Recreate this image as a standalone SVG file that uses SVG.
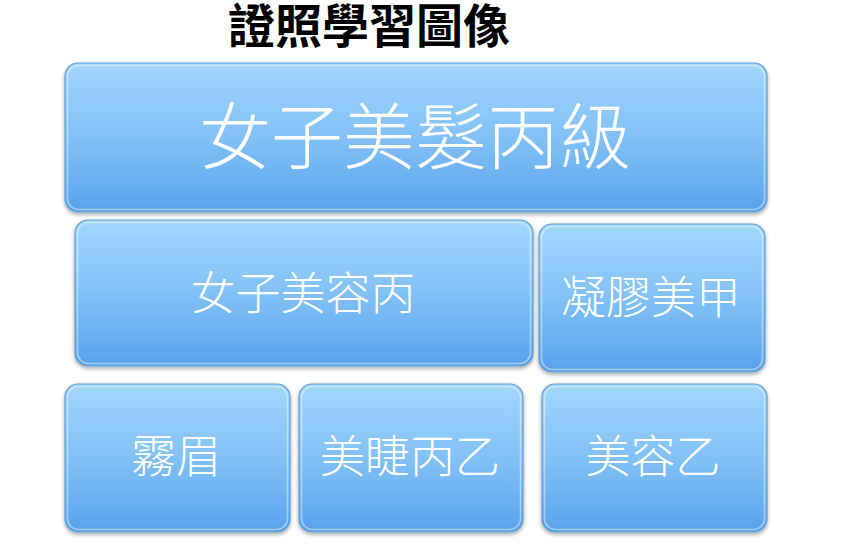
<svg xmlns="http://www.w3.org/2000/svg" width="856" height="549" viewBox="0 0 856 549">
<defs>
<linearGradient id="g" x1="0" y1="0" x2="0" y2="1">
<stop offset="0" stop-color="#a2d6fd"/>
<stop offset="0.5" stop-color="#82c1f7"/>
<stop offset="1" stop-color="#58a2ec"/>
</linearGradient>
<filter id="sh" x="-5%" y="-5%" width="110%" height="115%">
<feGaussianBlur in="SourceAlpha" stdDeviation="2"/>
<feOffset dx="0" dy="2" result="b"/>
<feComponentTransfer><feFuncA type="linear" slope="0.35"/></feComponentTransfer>
<feMerge><feMergeNode/><feMergeNode in="SourceGraphic"/></feMerge>
</filter>
</defs>
<style>
.box{fill:url(#g);stroke:#5e9fd8;stroke-width:1.2;filter:url(#sh)}
.hl{fill:none;stroke:#ffffff;stroke-opacity:0.45;stroke-width:1.5}
.t{fill:#ffffff;font-family:"Noto Sans CJK TC","Noto Sans CJK SC",sans-serif;font-weight:300;text-anchor:middle}
.title{fill:#000000;font-family:"Noto Sans CJK TC","Noto Sans CJK SC",sans-serif;font-weight:700;font-size:47px;text-anchor:middle}
</style>
<rect width="856" height="549" fill="#ffffff"/>
<text class="title" x="369" y="43">證照學習圖像</text>
<g id="connectors"/>
<g id="n1">
<rect class="box" x="65" y="63" width="702" height="149" rx="13"/>
<rect class="hl" x="67.5" y="65.5" width="697" height="144" rx="11"/>
<text class="t" x="415" y="163" font-size="72">女子美髮丙級</text>
</g>
<g id="n2">
<rect class="box" x="75" y="220" width="458" height="146" rx="13"/>
<rect class="hl" x="77.5" y="222.5" width="453" height="141" rx="11"/>
<text class="t" x="303" y="310" font-size="45">女子美容丙</text>
</g>
<g id="n3">
<rect class="box" x="539" y="224" width="226" height="148" rx="13"/>
<rect class="hl" x="541.5" y="226.5" width="221" height="143" rx="11"/>
<text class="t" x="651" y="314" font-size="45">凝膠美甲</text>
</g>
<g id="n4">
<rect class="box" x="65" y="384" width="225" height="148" rx="13"/>
<rect class="hl" x="67.5" y="386.5" width="220" height="143" rx="11"/>
<text class="t" x="176" y="473" font-size="45">霧眉</text>
</g>
<g id="n5">
<rect class="box" x="299" y="384" width="224" height="148" rx="13"/>
<rect class="hl" x="301.5" y="386.5" width="219" height="143" rx="11"/>
<text class="t" x="410" y="473" font-size="45">美睫丙乙</text>
</g>
<g id="n6">
<rect class="box" x="542" y="384" width="225" height="148" rx="13"/>
<rect class="hl" x="544.5" y="386.5" width="220" height="143" rx="11"/>
<text class="t" x="653" y="473" font-size="45">美容乙</text>
</g>
</svg>
